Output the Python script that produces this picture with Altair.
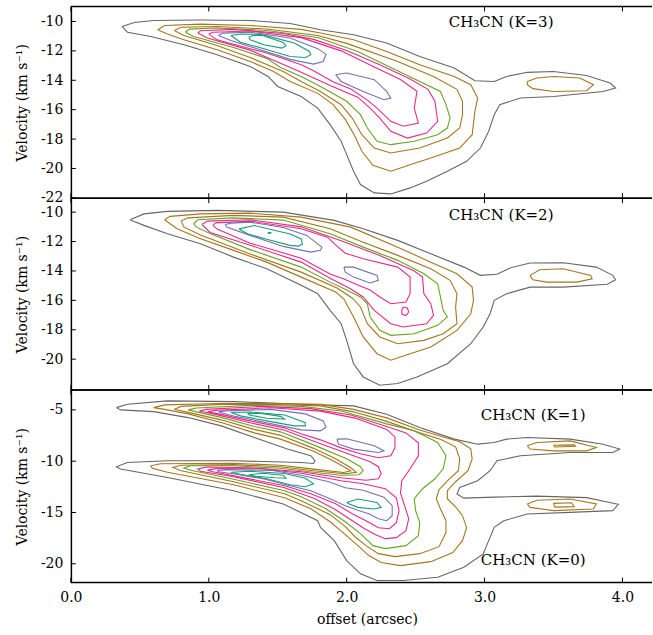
import altair as alt
import pandas as pd

FONT = "DejaVu Serif"
X_MAX = 4.2143
X_TICKS = [0, 1, 2, 3, 4]
LEVELS = ["l1", "l2", "l3", "l4", "l5", "l6", "l7", "l8", "l9"]
LEVEL_COLORS = ["#666666", "#a6761d", "#a6761d", "#66a61e", "#e7298a",
                "#e7298a", "#7570b3", "#1b9e77", "#1b9e77"]

# ---------------- K=3 panel (offset arcsec, velocity km/s) ----------------
K3_L1 = [(0.37,-10.34),(0.46,-10.07),(0.60,-9.93),(0.94,-9.90),(1.30,-9.93),(1.59,-10.14),(1.81,-10.56),(2.05,-10.90),(2.29,-11.47),(2.53,-12.38),(2.78,-13.17),(2.93,-14.03),(3.07,-14.08),(3.16,-13.74),(3.31,-13.46),(3.50,-13.40),(3.74,-13.67),(3.91,-14.19),(3.95,-14.53),(3.86,-14.76),(3.50,-15.10),(3.26,-15.21),(3.11,-15.66),(3.07,-16.34),(3.03,-17.47),(2.97,-18.61),(2.87,-19.51),(2.73,-20.19),(2.58,-20.87),(2.46,-21.32),(2.32,-21.73),(2.20,-21.66),(2.10,-21.09),(2.05,-20.19),(2.00,-19.06),(1.96,-18.15),(1.88,-17.02),(1.79,-15.89),(1.67,-15.10),(1.50,-14.42),(1.43,-13.74),(1.30,-13.06),(1.06,-12.26),(0.82,-11.58),(0.58,-11.02),(0.41,-10.73)]
K3_L2 = [(0.63,-10.56),(0.68,-10.27),(0.94,-10.18),(1.30,-10.27),(1.67,-10.54),(1.81,-10.79),(2.05,-11.24),(2.29,-12.04),(2.53,-12.94),(2.78,-13.74),(2.90,-14.30),(2.95,-15.21),(2.93,-16.11),(2.91,-17.70),(2.82,-18.61),(2.61,-19.29),(2.46,-19.74),(2.32,-20.19),(2.19,-19.78),(2.11,-18.83),(2.06,-17.81),(1.99,-16.66),(1.90,-15.64),(1.79,-14.89),(1.59,-14.08),(1.47,-13.40),(1.30,-12.72),(1.06,-11.92),(0.82,-11.24),(0.70,-10.86)]
K3_L2B = [(3.31,-14.08),(3.38,-13.85),(3.50,-13.74),(3.69,-13.85),(3.79,-14.30),(3.74,-14.71),(3.50,-14.76),(3.35,-14.57),(3.31,-14.30)]
K3_L3 = [(0.75,-10.61),(0.80,-10.39),(1.06,-10.34),(1.42,-10.51),(1.79,-10.95),(2.00,-11.49),(2.37,-12.72),(2.63,-13.74),(2.80,-14.62),(2.84,-15.43),(2.84,-16.34),(2.82,-17.25),(2.73,-17.93),(2.53,-18.61),(2.32,-18.95),(2.20,-18.61),(2.11,-17.70),(2.04,-16.57),(1.96,-15.66),(1.81,-14.76),(1.67,-14.08),(1.54,-13.40),(1.30,-12.45),(1.06,-11.63),(0.82,-10.95)]
K3_L4 = [(0.83,-10.73),(0.86,-10.52),(1.06,-10.44),(1.42,-10.61),(1.79,-11.09),(2.08,-12.04),(2.32,-13.13),(2.53,-14.08),(2.68,-14.76),(2.72,-15.64),(2.75,-16.57),(2.73,-17.25),(2.66,-17.70),(2.49,-18.15),(2.32,-18.38),(2.22,-18.15),(2.15,-17.25),(2.10,-16.34),(2.00,-15.43),(1.83,-14.53),(1.67,-13.74),(1.52,-13.13),(1.42,-12.51),(1.18,-11.77),(0.89,-11.02)]
K3_L5 = [(0.92,-10.79),(0.94,-10.63),(1.18,-10.54),(1.54,-10.82),(1.76,-11.22),(2.00,-11.97),(2.24,-12.95),(2.46,-13.92),(2.59,-14.62),(2.64,-15.43),(2.66,-16.79),(2.58,-17.59),(2.44,-17.93),(2.32,-17.47),(2.24,-16.57),(2.17,-15.89),(2.08,-15.15),(1.88,-14.35),(1.67,-13.45),(1.52,-12.85),(1.30,-11.95),(0.99,-11.13)]
K3_L6 = [(1.00,-10.86),(1.03,-10.73),(1.30,-10.65),(1.67,-11.10),(1.96,-12.00),(2.20,-13.10),(2.39,-13.95),(2.51,-14.75),(2.49,-15.89),(2.52,-16.91),(2.41,-17.13),(2.32,-16.79),(2.22,-15.89),(2.15,-15.35),(2.03,-14.60),(1.90,-14.10),(1.76,-13.35),(1.67,-12.95),(1.42,-12.15),(1.06,-11.25)]
K3_L7A = [(1.07,-10.95),(1.10,-10.79),(1.30,-10.73),(1.59,-11.12),(1.79,-11.85),(1.85,-12.24),(1.83,-12.72),(1.76,-12.90),(1.59,-12.58),(1.38,-11.94),(1.16,-11.29)]
K3_L7B = [(1.92,-13.62),(2.00,-13.51),(2.20,-13.96),(2.29,-14.76),(2.32,-15.21),(2.27,-15.32),(2.12,-14.76),(1.96,-14.08)]
K3_L8 = [(1.16,-10.95),(1.23,-10.85),(1.38,-10.88),(1.62,-11.47),(1.73,-12.04),(1.74,-12.26),(1.70,-12.45),(1.59,-12.38),(1.40,-11.85),(1.23,-11.41)]
K3_L9 = [(1.29,-11.09),(1.32,-10.95),(1.39,-10.95),(1.54,-11.43),(1.56,-11.66),(1.53,-11.81),(1.40,-11.58),(1.30,-11.24)]

# ---------------- K=2 panel ----------------
K2_L1 = [(0.43,-10.52),(0.53,-10.12),(0.70,-9.95),(1.06,-9.88),(1.54,-10.00),(1.91,-10.56),(2.12,-11.13),(2.37,-11.92),(2.61,-12.83),(2.85,-13.74),(2.97,-14.30),(3.09,-14.23),(3.19,-13.78),(3.33,-13.46),(3.57,-13.44),(3.81,-13.74),(3.93,-14.30),(3.95,-14.60),(3.89,-14.91),(3.57,-15.10),(3.33,-15.10),(3.16,-15.55),(3.07,-16.00),(3.04,-16.91),(2.99,-17.81),(2.90,-18.95),(2.73,-20.31),(2.51,-21.21),(2.37,-21.66),(2.24,-21.77),(2.12,-21.21),(2.05,-20.31),(2.00,-18.72),(1.96,-17.59),(1.88,-16.68),(1.79,-15.55),(1.67,-14.98),(1.42,-13.85),(1.18,-13.06),(0.94,-12.15),(0.70,-11.47),(0.53,-10.90),(0.45,-10.61)]
K2_L2 = [(0.68,-10.52),(0.72,-10.29),(0.94,-10.12),(1.30,-10.07),(1.67,-10.34),(2.03,-11.02),(2.37,-12.38),(2.61,-13.40),(2.80,-14.19),(2.91,-15.10),(2.92,-16.00),(2.90,-16.91),(2.80,-18.04),(2.61,-19.17),(2.46,-19.63),(2.32,-20.07),(2.22,-19.63),(2.12,-18.49),(2.05,-17.13),(1.98,-15.91),(1.92,-15.43),(1.67,-14.42),(1.42,-13.40),(1.18,-12.60),(0.94,-11.81),(0.77,-11.13)]
K2_L2B = [(3.33,-14.30),(3.40,-13.92),(3.57,-13.85),(3.77,-14.30),(3.78,-14.53),(3.67,-14.76),(3.45,-14.76),(3.35,-14.60)]
K2_L3 = [(0.80,-10.61),(0.85,-10.39),(1.18,-10.22),(1.54,-10.34),(1.88,-11.13),(2.12,-12.04),(2.37,-12.94),(2.61,-13.85),(2.75,-14.64),(2.80,-15.55),(2.79,-16.45),(2.80,-17.59),(2.70,-18.27),(2.56,-18.72),(2.37,-18.95),(2.24,-18.49),(2.15,-17.59),(2.10,-16.45),(2.04,-15.84),(1.93,-15.16),(1.67,-14.08),(1.30,-12.85),(0.94,-11.55),(0.82,-11.02)]
K2_L4 = [(0.89,-10.79),(0.92,-10.52),(1.18,-10.39),(1.54,-10.54),(1.88,-11.47),(2.12,-12.38),(2.37,-13.28),(2.56,-14.19),(2.66,-14.87),(2.68,-15.77),(2.70,-16.68),(2.73,-17.13),(2.66,-17.70),(2.49,-18.27),(2.32,-18.38),(2.24,-18.04),(2.17,-17.13),(2.15,-16.23),(2.10,-15.77),(2.00,-15.30),(1.88,-14.76),(1.67,-13.74),(1.30,-12.55),(1.01,-11.45),(0.91,-11.02)]
K2_L5 = [(0.95,-10.84),(0.99,-10.61),(1.30,-10.52),(1.67,-11.00),(1.96,-11.95),(2.24,-12.95),(2.49,-14.00),(2.55,-14.42),(2.56,-15.55),(2.61,-16.23),(2.63,-17.02),(2.58,-17.59),(2.41,-17.81),(2.32,-17.59),(2.20,-16.68),(2.12,-15.77),(2.03,-15.23),(1.88,-14.49),(1.67,-13.40),(1.30,-12.25),(1.01,-11.38)]
K2_L6 = [(1.03,-10.90),(1.05,-10.73),(1.30,-10.61),(1.67,-11.13),(1.86,-11.70),(1.93,-12.31),(1.99,-12.79),(2.12,-13.17),(2.37,-13.74),(2.46,-14.42),(2.46,-15.55),(2.43,-16.11),(2.32,-16.23),(2.24,-15.77),(2.17,-15.30),(2.08,-14.96),(1.98,-14.55),(1.88,-14.21),(1.67,-13.13),(1.30,-12.11),(1.06,-11.15)]
K2_L6B = [(2.41,-16.45),(2.44,-16.52),(2.45,-16.79),(2.43,-17.03),(2.40,-16.93),(2.40,-16.66)]
K2_L7A = [(1.12,-10.84),(1.16,-10.75),(1.30,-10.68),(1.54,-11.05),(1.71,-11.58),(1.82,-12.38),(1.81,-12.60),(1.74,-12.72),(1.54,-12.33),(1.30,-11.58),(1.13,-11.02)]
K2_L7B = [(1.98,-13.74),(2.05,-13.74),(2.22,-14.30),(2.23,-14.64),(2.17,-14.82),(2.05,-14.42),(1.99,-14.08)]
K2_L8 = [(1.22,-11.14),(1.33,-10.91),(1.59,-11.48),(1.67,-11.82),(1.68,-12.16),(1.65,-12.31),(1.59,-12.26),(1.42,-11.85),(1.28,-11.47)]
K2_L9 = [(1.43,-11.38),(1.45,-11.38),(1.45,-11.43),(1.43,-11.43)]

# ---------------- K=1 / K=0 panel ----------------
B_L1 = [(0.33,-4.78),(0.41,-4.45),(0.70,-4.12),(1.18,-4.19),(1.67,-4.45),(2.05,-4.61),(2.29,-5.42),(2.53,-6.72),(2.78,-7.85),(2.95,-8.34),(3.07,-8.18),(3.16,-7.85),(3.31,-7.69),(3.62,-7.85),(3.86,-8.34),(3.98,-8.82),(3.93,-9.15),(3.62,-9.15),(3.26,-9.47),(3.09,-9.96),(3.04,-10.93),(2.95,-11.91),(2.82,-12.56),(2.80,-13.20),(2.85,-13.60),(3.07,-13.50),(3.38,-13.40),(3.74,-13.55),(3.97,-14.20),(3.93,-14.82),(3.62,-14.99),(3.31,-15.15),(3.14,-15.80),(3.07,-16.45),(3.03,-17.74),(2.99,-19.04),(2.85,-20.34),(2.66,-21.31),(2.41,-21.63),(2.22,-21.63),(2.10,-20.98),(2.00,-19.69),(1.91,-17.74),(1.81,-16.45),(1.79,-15.80),(1.54,-14.17),(1.18,-12.88),(0.70,-11.59),(0.36,-10.77),(0.33,-10.54),(0.41,-10.13),(0.70,-9.96),(1.18,-9.96),(1.67,-10.13),(1.76,-10.22),(1.77,-9.96),(1.74,-9.47),(1.57,-8.82),(1.33,-7.69),(1.09,-6.56),(0.85,-5.75),(0.60,-5.17),(0.36,-5.00)]
B_L2 = [(0.60,-4.78),(0.68,-4.51),(1.09,-4.37),(1.52,-4.37),(1.81,-4.46),(2.05,-4.95),(2.29,-5.78),(2.53,-6.95),(2.72,-7.72),(2.82,-8.11),(2.90,-8.79),(2.91,-9.77),(2.88,-10.93),(2.79,-12.00),(2.73,-12.88),(2.73,-13.66),(2.79,-14.44),(2.84,-15.31),(2.87,-16.48),(2.84,-17.74),(2.77,-18.91),(2.61,-19.79),(2.39,-20.18),(2.25,-19.88),(2.16,-19.20),(2.09,-18.33),(1.99,-17.16),(1.88,-15.90),(1.74,-14.63),(1.55,-13.56),(1.18,-12.30),(0.70,-11.08),(0.59,-10.69),(0.58,-10.45),(0.65,-10.25),(1.18,-10.20),(1.52,-10.40),(1.76,-10.77),(1.98,-11.10),(2.03,-10.93),(1.99,-10.61),(1.88,-9.80),(1.76,-9.04),(1.52,-7.85),(1.33,-7.24),(1.09,-6.22),(0.85,-5.39),(0.68,-4.95)]
B_L2B = [(3.31,-8.50),(3.38,-8.18),(3.62,-8.02),(3.81,-8.67),(3.74,-8.99),(3.50,-8.99),(3.33,-8.82)]
B_L2C = [(3.31,-14.17),(3.38,-13.80),(3.62,-13.69),(3.81,-14.17),(3.79,-14.66),(3.50,-14.82),(3.33,-14.50)]
B_L3 = [(0.75,-4.93),(0.80,-4.66),(1.09,-4.46),(1.52,-4.49),(1.81,-4.61),(2.05,-5.19),(2.29,-6.12),(2.53,-7.24),(2.68,-7.87),(2.79,-8.60),(2.82,-9.77),(2.81,-10.93),(2.73,-11.91),(2.67,-12.78),(2.65,-13.66),(2.68,-14.63),(2.72,-15.80),(2.72,-16.96),(2.67,-18.33),(2.53,-19.01),(2.35,-19.30),(2.23,-19.01),(2.14,-18.23),(2.06,-17.36),(1.99,-16.38),(1.88,-15.21),(1.67,-13.85),(1.55,-13.17),(1.18,-12.00),(0.80,-10.93),(0.74,-10.61),(0.80,-10.40),(1.18,-10.33),(1.52,-10.54),(1.76,-10.93),(1.99,-11.23),(2.07,-11.08),(2.03,-10.64),(1.92,-9.77),(1.76,-8.75),(1.52,-7.48),(1.33,-6.90),(1.09,-5.97),(0.85,-5.24)]
B_L3B = [(3.50,-8.45),(3.65,-8.41),(3.66,-8.55),(3.51,-8.62)]
B_L3C = [(3.50,-14.11),(3.63,-14.05),(3.65,-14.43),(3.51,-14.48)]
B_L4 = [(0.85,-5.00),(0.91,-4.81),(1.30,-4.56),(1.67,-4.66),(1.96,-5.10),(2.29,-6.36),(2.49,-7.04),(2.66,-8.18),(2.72,-9.47),(2.70,-10.74),(2.64,-11.71),(2.55,-12.68),(2.49,-13.66),(2.50,-14.82),(2.53,-15.99),(2.52,-17.26),(2.43,-18.23),(2.28,-18.52),(2.19,-18.23),(2.10,-17.06),(1.99,-15.90),(1.85,-14.63),(1.67,-13.46),(1.55,-12.88),(1.18,-11.76),(0.87,-10.89),(0.82,-10.67),(0.87,-10.45),(1.18,-10.45),(1.52,-10.69),(1.76,-11.08),(1.96,-11.37),(2.09,-11.32),(2.12,-10.93),(2.10,-10.54),(2.00,-9.77),(1.76,-8.41),(1.52,-7.14),(1.33,-6.61),(1.09,-5.73),(0.91,-5.19)]
B_L5 = [(0.93,-5.10),(0.98,-4.95),(1.38,-4.66),(1.74,-4.88),(2.03,-5.50),(2.29,-6.61),(2.43,-7.24),(2.52,-8.21),(2.52,-9.47),(2.46,-10.74),(2.40,-11.91),(2.39,-13.07),(2.42,-14.34),(2.45,-15.60),(2.43,-16.77),(2.36,-17.45),(2.28,-17.55),(2.21,-17.16),(2.13,-16.58),(2.03,-15.70),(1.92,-14.73),(1.77,-13.66),(1.55,-12.59),(1.18,-11.52),(0.94,-10.98),(0.92,-10.77),(0.98,-10.57),(1.30,-10.64),(1.67,-11.03),(1.96,-11.61),(2.14,-11.86),(2.23,-11.71),(2.25,-11.23),(2.23,-10.54),(2.17,-10.06),(2.03,-9.38),(1.81,-8.31),(1.55,-6.99),(1.30,-6.26),(1.05,-5.44)]
B_L6A = [(0.99,-5.19),(1.05,-5.05),(1.45,-4.79),(1.81,-5.12),(2.06,-5.80),(2.29,-6.90),(2.35,-7.63),(2.35,-8.70),(2.32,-9.47),(2.23,-9.67),(2.10,-9.28),(1.96,-8.70),(1.81,-7.92),(1.67,-7.33),(1.55,-6.75),(1.30,-6.07),(1.09,-5.44)]
B_L6B = [(0.99,-10.87),(1.05,-10.72),(1.38,-10.74),(1.67,-11.18),(1.96,-11.91),(2.12,-12.20),(2.28,-12.68),(2.36,-13.56),(2.38,-14.82),(2.36,-15.99),(2.31,-16.58),(2.23,-16.48),(2.14,-15.80),(2.04,-15.12),(1.92,-14.14),(1.74,-13.17),(1.55,-12.39),(1.23,-11.55),(1.03,-11.03)]
B_L7A = [(1.07,-5.21),(1.12,-5.10),(1.45,-4.95),(1.70,-5.39),(1.83,-6.07),(1.85,-6.70),(1.81,-7.04),(1.67,-6.95),(1.42,-6.25),(1.18,-5.60)]
B_L7B = [(1.93,-7.85),(2.00,-7.82),(2.20,-8.50),(2.27,-8.99),(2.23,-9.15),(2.05,-8.82),(1.94,-8.34)]
B_L7C = [(1.06,-10.93),(1.12,-10.82),(1.45,-10.89),(1.67,-11.37),(1.87,-12.00),(1.99,-12.59),(2.12,-12.83),(2.27,-13.51),(2.33,-14.34),(2.33,-15.31),(2.29,-15.80),(2.23,-15.60),(2.16,-15.12),(2.08,-14.78),(1.99,-14.34),(1.88,-13.66),(1.74,-12.88),(1.59,-12.39),(1.41,-11.76),(1.20,-11.27),(1.07,-11.03)]
B_L8A = [(1.16,-5.26),(1.30,-5.21),(1.55,-5.49),(1.70,-6.24),(1.70,-6.56),(1.62,-6.56),(1.42,-6.07),(1.23,-5.58)]
B_L8B = [(1.16,-11.08),(1.30,-10.98),(1.55,-11.20),(1.70,-11.66),(1.76,-12.20),(1.70,-12.49),(1.59,-12.30),(1.42,-11.71),(1.23,-11.28)]
B_L8C = [(2.00,-14.02),(2.08,-13.69),(2.22,-14.02),(2.25,-14.50),(2.20,-14.66),(2.08,-14.50),(2.02,-14.17)]
B_L9A = [(1.28,-5.36),(1.38,-5.34),(1.52,-5.63),(1.55,-5.90),(1.42,-5.81),(1.30,-5.52)]
B_L9B = [(1.29,-11.32),(1.39,-11.18),(1.54,-11.37),(1.56,-11.66),(1.48,-11.61),(1.34,-11.47)]

K3_CONTOURS = [("l1", K3_L1), ("l2", K3_L2), ("l2", K3_L2B), ("l3", K3_L3), ("l4", K3_L4),
               ("l5", K3_L5), ("l6", K3_L6), ("l7", K3_L7A), ("l7", K3_L7B), ("l8", K3_L8), ("l9", K3_L9)]
K2_CONTOURS = [("l1", K2_L1), ("l2", K2_L2), ("l2", K2_L2B), ("l3", K2_L3), ("l4", K2_L4),
               ("l5", K2_L5), ("l6", K2_L6), ("l6", K2_L6B), ("l7", K2_L7A), ("l7", K2_L7B),
               ("l8", K2_L8), ("l9", K2_L9)]
B_CONTOURS = [("l1", B_L1), ("l2", B_L2), ("l2", B_L2B), ("l2", B_L2C), ("l3", B_L3), ("l3", B_L3B),
              ("l3", B_L3C), ("l4", B_L4), ("l5", B_L5), ("l6", B_L6A), ("l6", B_L6B),
              ("l7", B_L7A), ("l7", B_L7B), ("l7", B_L7C), ("l8", B_L8A), ("l8", B_L8B),
              ("l8", B_L8C), ("l9", B_L9A), ("l9", B_L9B)]

K3_LABELS = [(3.12, -10.05, "CH\u2083CN (K=3)")]
K2_LABELS = [(3.12, -10.19, "CH\u2083CN (K=2)")]
B_LABELS = [(3.353, -5.46, "CH\u2083CN (K=1)"), (3.353, -19.66, "CH\u2083CN (K=0)")]

K3_YTICKS = [-22, -20, -18, -16, -14, -12, -10]
K2_YTICKS = [-20, -18, -16, -14, -12, -10]
B_YTICKS = [-20, -15, -10, -5]

W = 582


def contour_frame(contours):
    rows = []
    for cid, (level, pts) in enumerate(contours):
        closed = list(pts) + [pts[0]]
        for i, (x, v) in enumerate(closed):
            rows.append({"cid": cid, "level": level, "i": i, "x": x, "v": v})
    return pd.DataFrame(rows)


def panel(contours, ydom, yticks, h, labels, show_x, anchor=False):
    xs = alt.Scale(domain=[0, X_MAX], nice=False, zero=False)
    ys = alt.Scale(domain=ydom, nice=False, zero=False)
    yaxis = alt.Axis(values=yticks, title="Velocity (km s\u207b\u00b9)", ticks=False, grid=False,
                     domainColor="black", domainWidth=1.5, labelFont=FONT, labelFontSize=14,
                     labelColor="black", labelPadding=8, labelFlush=False, labelOverlap=False,
                     labelExpr="replace(datum.label, '\u2212', '-')",
                     titleFont=FONT, titleFontSize=14, titleFontWeight="normal",
                     titleColor="black", titleX=-44, titleY=h / 2, titleAngle=270,
                     titleBaseline="alphabetic", titleAlign="center")
    if show_x:
        xaxis = alt.Axis(values=X_TICKS, format=".1f", title="offset (arcsec)", ticks=False,
                         grid=False, domain=False, labelFont=FONT, labelFontSize=14,
                         labelColor="black", labelPadding=8, labelFlush=False,
                         labelOverlap=False, titleFont=FONT, titleFontSize=14,
                         titleFontWeight="normal", titleColor="black", titleX=296.5,
                         titleY=40.5, titleBaseline="alphabetic", titleAlign="center")
    else:
        xaxis = None

    def X(field):
        return alt.X(field, scale=xs, axis=xaxis)

    def Y(field):
        return alt.Y(field, scale=ys, axis=yaxis)

    lines = alt.Chart(contour_frame(contours)).mark_line(strokeWidth=1.1, clip=True).encode(
        x=X("x:Q"),
        y=Y("v:Q"),
        color=alt.Color("level:N", scale=alt.Scale(domain=LEVELS, range=LEVEL_COLORS), legend=None),
        detail="cid:N",
        order="i:Q",
    )
    xt = pd.DataFrame({"x": X_TICKS})
    yt = pd.DataFrame({"v": yticks})
    one = pd.DataFrame({"t": [0]})
    top_ticks = alt.Chart(xt).mark_rule(color="black", strokeWidth=1).encode(
        x=X("x:Q"), y=alt.value(0), y2=alt.value(5))
    bot_ticks = alt.Chart(xt).mark_rule(color="black", strokeWidth=1).encode(
        x=X("x:Q"), y=alt.value(h), y2=alt.value(h - 5))
    left_ticks = alt.Chart(yt).mark_rule(color="black", strokeWidth=1).encode(
        y=Y("v:Q"), x=alt.value(0), x2=alt.value(5))
    top_border = alt.Chart(one).mark_rule(color="black", strokeWidth=1.5).encode(
        x=alt.value(0), x2=alt.value(W), y=alt.value(0))
    bot_border = alt.Chart(one).mark_rule(color="black", strokeWidth=1.5).encode(
        x=alt.value(0), x2=alt.value(W), y=alt.value(h))
    lab_df = pd.DataFrame(labels, columns=["x", "v", "text"])
    texts = alt.Chart(lab_df).mark_text(font=FONT, fontSize=15, color="black",
                                        align="center", baseline="middle").encode(
        x=X("x:Q"), y=Y("v:Q"), text="text:N")
    layers = [lines, top_ticks, bot_ticks, left_ticks, top_border, bot_border, texts]
    if anchor:
        # white rule that fixes the page margin at the top-left corner
        layers.append(alt.Chart(one).mark_rule(color="white", strokeWidth=1).encode(
            x=alt.value(-70), x2=alt.value(-69), y=alt.value(-5)))
    return alt.layer(*layers).properties(width=W, height=h)


p1 = panel(K3_CONTOURS, [-22.02, -8.98], K3_YTICKS, 192, K3_LABELS, False, anchor=True)
p2 = panel(K2_CONTOURS, [-22.09, -9.05], K2_YTICKS, 192, K2_LABELS, False)
p3 = panel(B_CONTOURS, [-21.83, -3.05], B_YTICKS, 193, B_LABELS, True)

chart = alt.vconcat(p1, p2, p3, spacing=0, bounds="flush").resolve_scale(
    x="independent", y="independent"
).properties(
    padding=0,
).configure_view(stroke=None)

chart.save("out.html", embed_options={"renderer": "svg", "actions": False})
